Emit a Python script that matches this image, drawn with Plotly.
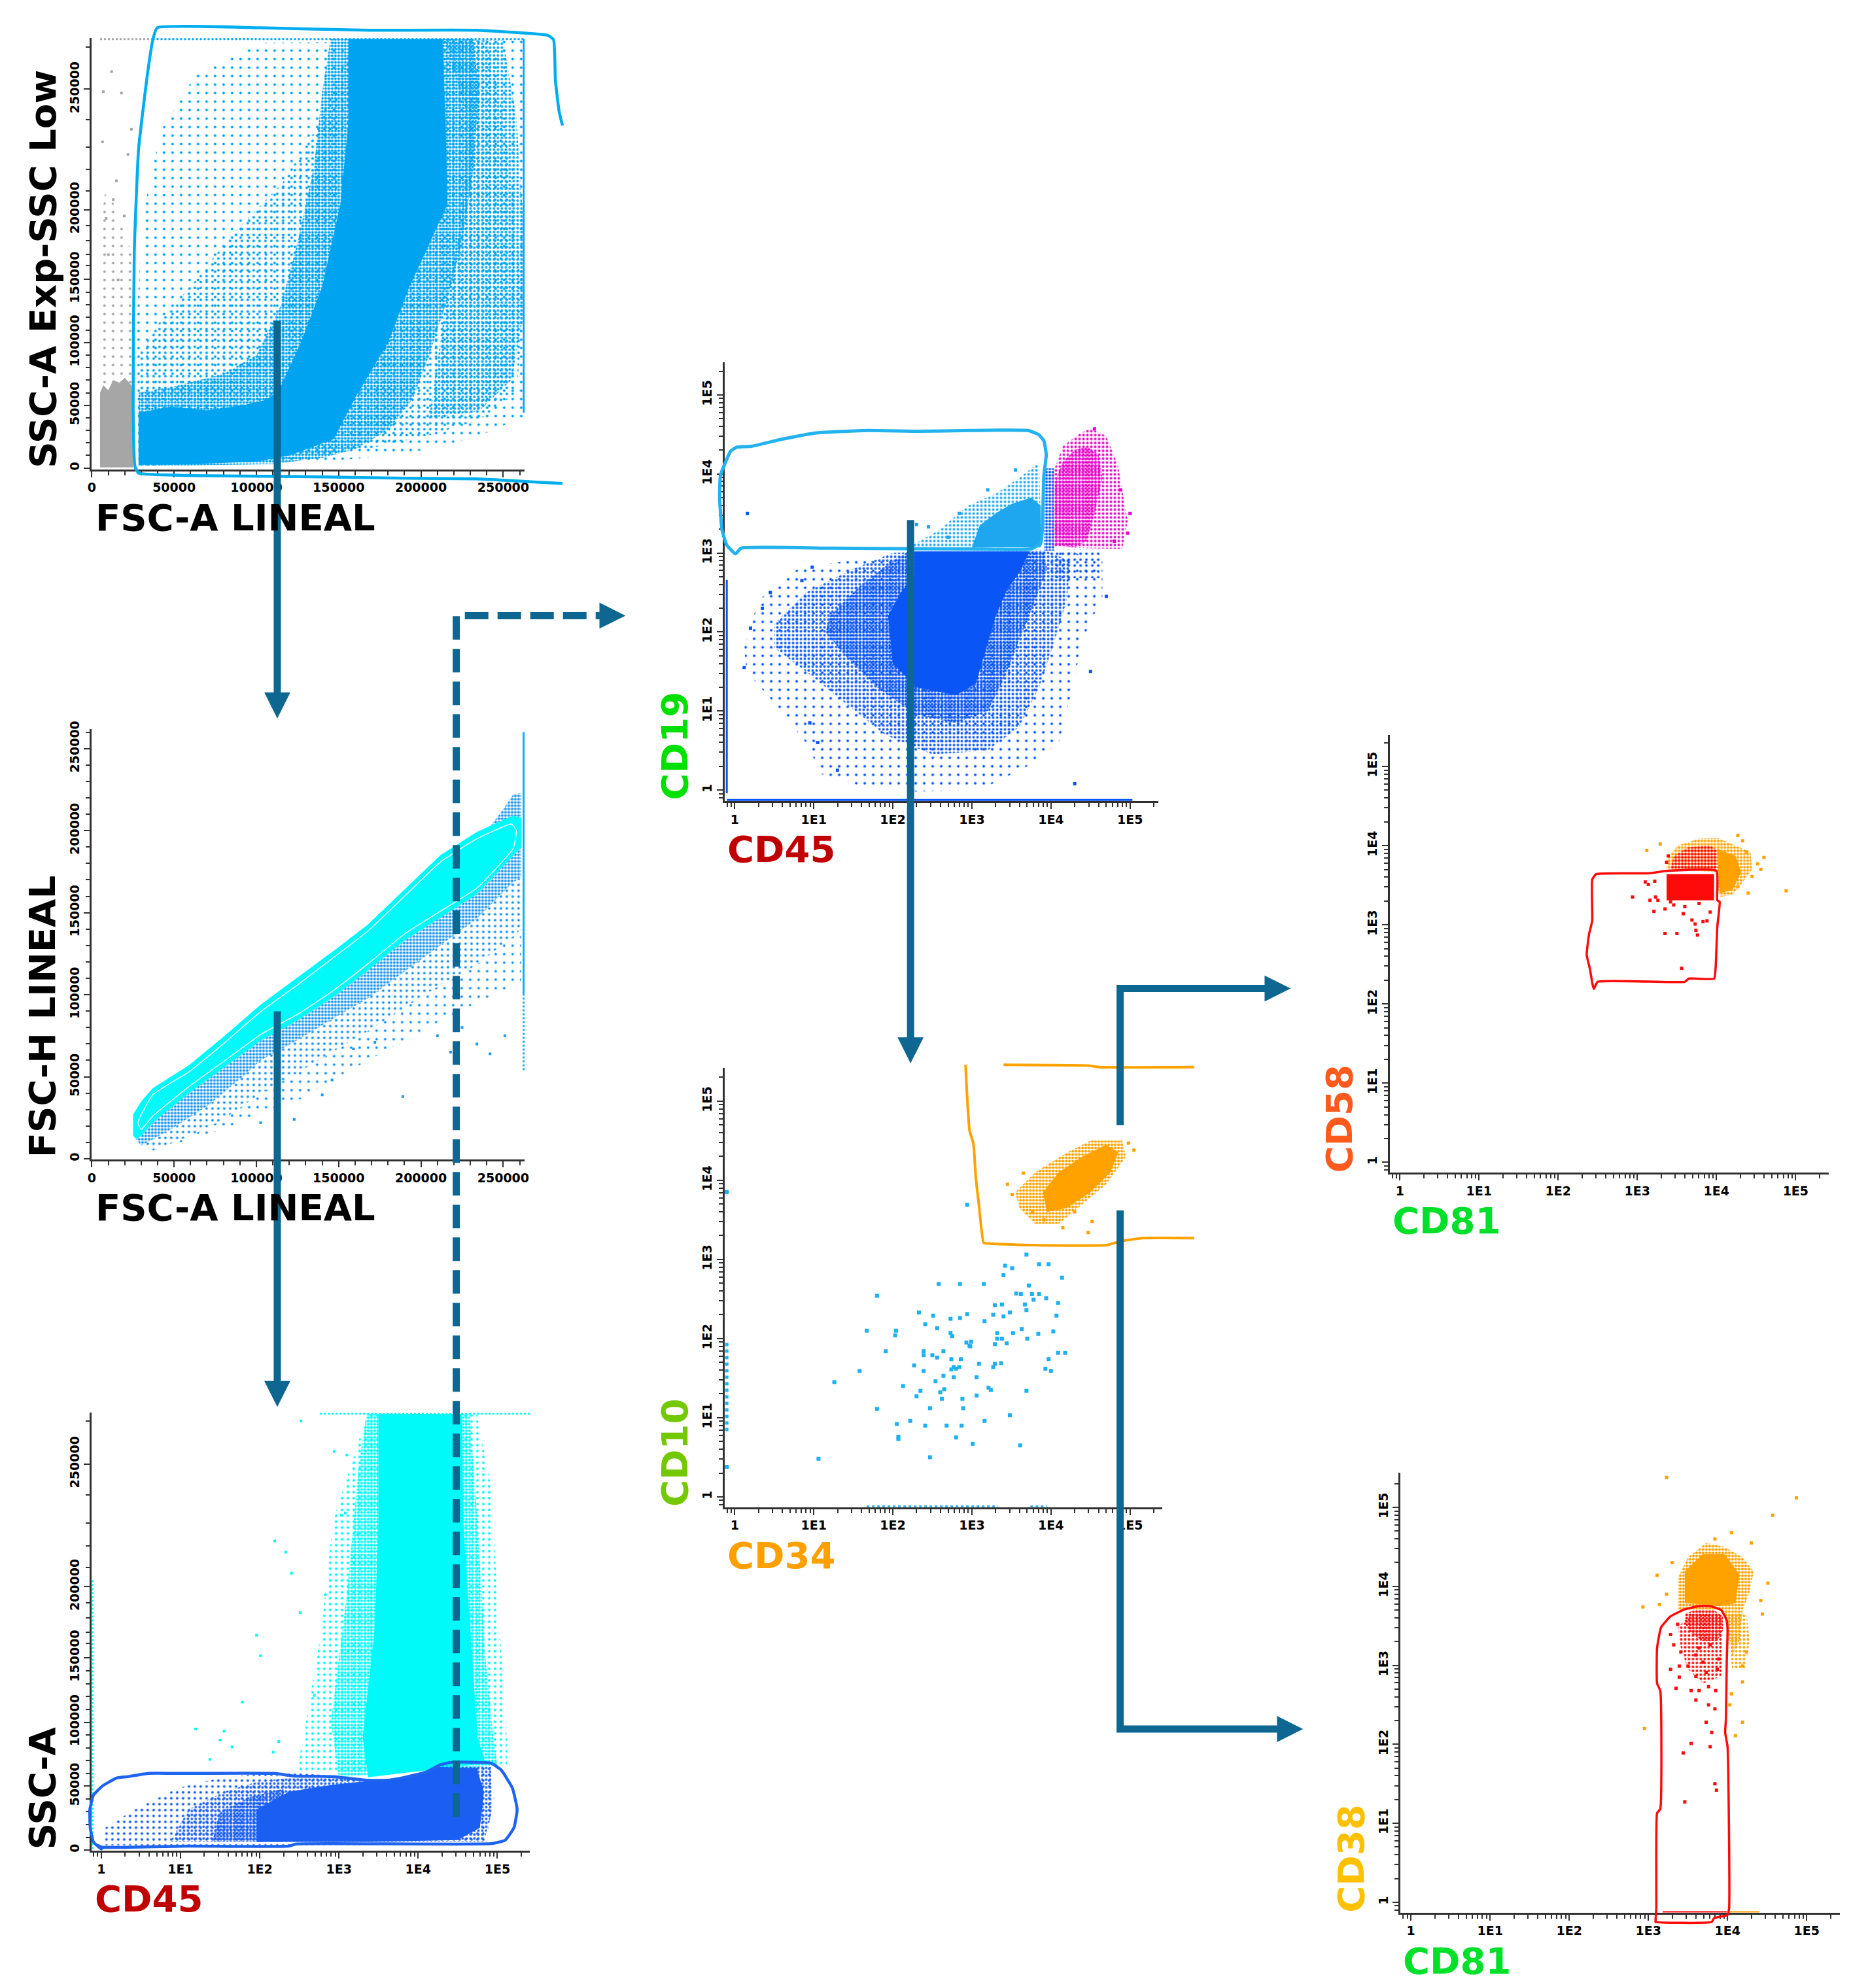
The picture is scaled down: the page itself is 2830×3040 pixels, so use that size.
import plotly.graph_objects as go

W, H = 2830, 3040

# ------------------------------------------------------------------ colours
ARROW = '#0D6790'
AXC = '#303030'
GRAY = '#A6A6A6'
BLUE1 = '#00A3F0'
GATE1 = '#00AEEF'
CYAN = '#00FAFA'
BLUE2 = '#1E96F0'
BLUE3 = '#1A5EF2'
GATE3 = '#1E64F0'
BLUE4 = '#0A55F5'
LBLUE4 = '#1EA6EE'
GATE4 = '#22B2EE'
MAGENTA = '#E600C8'
LBLUE5 = '#1EB0F0'
ORANGE = '#FFA200'
RED = '#FF0A0A'

# ------------------------------------------------------------------ tick labels
LIN_TICKS = [0, 50, 100, 150, 200, 250]
LIN_TEXT = ['0', '50000', '100000', '150000', '200000', '250000']
SSC_TICK_POS = [0, 50, 100, 150.5, 206, 302]          # SSC display scale (non-linear labels)
SSC_TEXT = ['0', '50000', '100000', '150000', '200000', '250000']
SSC_MINOR_POS = [10, 20, 30, 40, 60, 70, 80, 90, 110, 120, 130, 140, 161.6, 170.5, 181.4, 193.3,
                 220.9, 238, 255.7, 277.5, 335.8]
LOG_TICKS = [1, 10, 100, 1e3, 1e4, 1e5]
LOG_TEXT = ['1', '1E1', '1E2', '1E3', '1E4', '1E5']

# ================================================================== PANEL 1 data
# FSC-A (thousands) vs SSC-A Exp (display thousands)
P1_GRAY_DENSE_X = [5, 5, 7, 10, 13, 17, 20, 24, 25, 25]
P1_GRAY_DENSE_Y = [0.5, 60, 66, 62, 70, 68, 72, 66, 60, 0.5]
P1_GRAY_SPARSE_X = [5, 5, 8, 12, 18, 22, 25, 25]
P1_GRAY_SPARSE_Y = [60, 190, 220, 215, 195, 180, 170, 60]
P1_GRAY_DOT_X = [12, 18, 6.5, 15, 13, 19.7, 8.7, 22, 10, 16, 24, 7]
P1_GRAY_DOT_Y = [316, 299, 260, 229, 214, 201, 199, 250, 170, 150, 270, 300]
P1_GRAY_TOP_X = [5, 37]
P1_GRAY_TOP_Y = [342, 342]
P1_BLUE_TOP_X = [37, 263]
P1_BLUE_TOP_Y = [342, 342]
P1_EDGE_X = [262.5, 262.5]
P1_EDGE_Y = [44, 342]
P1_SPARSE_X = [28.4, 27.3, 30.6, 41.5, 63.3, 102.6, 263, 263, 233.6, 190, 146, 80.8]
P1_SPARSE_Y = [1.4, 117, 199, 268, 314, 339, 341, 41, 24.6, 11, 5.5, 2.7]
P1_MED_X = [28.4, 28.4, 41.5, 63.3, 85, 115.7, 137.6, 152.8, 159.4, 240, 250, 258, 262, 258, 235, 205, 170, 130, 80.8]
P1_MED_Y = [1.4, 90, 117, 150, 186, 227, 273, 322, 341, 341, 281, 199, 117, 60, 38, 26, 16, 8, 4]
P1_RIGHT_X = [215, 250, 258, 262, 262, 255, 235, 205, 215, 225, 228]
P1_RIGHT_Y = [341, 341, 280, 200, 120, 70, 45, 40, 130, 200, 280]
P1_DENSE_X = [28.4, 28.4, 50, 80, 100, 115, 125, 135, 140, 145, 232, 235, 232, 225, 215, 205, 195, 180,
              160, 140, 110, 60]
P1_DENSE_Y = [2, 60, 65, 75, 90, 130, 180, 240, 300, 342, 342, 300, 240, 180, 130, 90, 55, 30,
              15, 8, 3, 2]
P1_CORE_X = [28.4, 48, 70, 92, 105, 113, 127, 140, 151, 156, 156, 213, 215, 216, 193, 180, 160, 147,
             120, 100, 60, 28.4]
P1_CORE_Y = [44, 49, 46, 50, 54, 60, 100, 144.5, 210, 276, 342, 342, 276, 210, 144.5, 100, 56, 23,
             10, 5, 3, 2.7]
P1_GATE_X = [286, 284, 281.7, 280.6, 277, 233.6, 168, 102.6, 39.7, 37.1, 33.8, 28.4, 25.8, 25.1, 26.2,
             28.4, 59, 124.5, 190, 233.6, 286]
P1_GATE_Y = [273, 284, 309, 341.5, 345, 349, 349, 351, 351, 341.5, 314, 254, 172, 49, 1.4,
             -4, -6, -6.8, -8.2, -8.7, -12.3]

# ================================================================== PANEL 2 data
P2_BAND_X = [25.1, 25.1, 30, 37, 59, 80.8, 102.6, 124.5, 146, 168, 190, 211.8, 233.6, 255.5, 261,
             261, 255.5, 233.6, 211.8, 190, 168, 146, 124.5, 102.6, 80.8, 59, 37, 30, 27]
P2_BAND_Y = [14, 27, 35, 43, 57, 75, 94, 110, 126, 143, 164, 185, 199, 209, 208,
             190, 184, 161, 147, 133, 115, 98, 84, 72, 56, 40, 22, 14, 12]
P2_CONTOUR_X = [28, 37, 59, 81, 103, 125, 146, 168, 190, 212, 234, 255, 258,
                256, 234, 212, 190, 168, 146, 125, 103, 81, 59, 37, 30, 28]
P2_CONTOUR_Y = [22, 39, 53, 71, 90, 106, 122, 139, 160, 181, 195, 204, 200,
                189, 165, 151, 137, 119, 102, 88, 76, 60, 44, 26, 18, 22]
P2_DENSE_X = [27, 30, 37, 59, 80.8, 102.6, 124.5, 146, 168, 190, 211.8, 233.6, 255.5, 261,
              261, 255.5, 233.6, 211.8, 190, 168, 146, 124.5, 102.6, 91.7, 70, 48, 30]
P2_DENSE_Y = [12, 14, 22, 40, 56, 72, 84, 98, 115, 133, 147, 161, 184, 190,
              172, 168, 146, 130, 114, 98, 85, 72, 60, 50, 32, 18, 8]
P2_MED_X = [30, 48, 70, 91.7, 102.6, 124.5, 146, 168, 190, 211.8, 233.6, 255.5, 261,
            261, 255.5, 233.6, 211.8, 190, 168, 146, 124.5, 102.6, 80, 60, 37]
P2_MED_Y = [8, 18, 32, 50, 60, 72, 85, 98, 114, 130, 146, 168, 172,
            140, 135, 118, 106, 92, 78, 65, 52, 40, 24, 14, 5]
P2_SPARSE_X = [37, 60, 80, 102.6, 124.5, 146, 168, 190, 211.8, 233.6, 255.5, 261,
               261, 255.5, 233.6, 211.8, 190, 168, 146, 124.5, 102.6, 80, 60, 37]
P2_SPARSE_Y = [5, 14, 24, 40, 52, 65, 78, 92, 106, 118, 135, 140,
               108, 105, 95, 84, 72, 60, 48, 35, 28, 18, 12, 5]
P2_TOP_X = [240, 250, 256, 261, 261, 255.5, 240]
P2_TOP_Y = [200, 213, 222, 223, 208, 209, 200]
P2_DOT_X = [189, 140, 102.6, 123, 242, 251, 234, 225, 218, 172, 159, 146, 210]
P2_DOT_Y = [38, 39, 22, 24, 64, 75, 70, 80, 65, 71, 67, 48, 75]
P2_EDGE_X = [262.4, 262.4]
P2_EDGE_Y = [100, 260]
P2_EDGE2_Y = [54, 100]

# ================================================================== PANEL 3 data (log10 CD45, SSC display thousands)
P3_CYAN_SPARSE_X = [2.78, 2.92, 3.28, 3.37, 4.74, 4.92, 5.0, 5.12, 5.12, 2.46, 2.55]
P3_CYAN_SPARSE_Y = [172, 256, 326, 341, 341, 284, 200, 88, 65, 60, 88]
P3_CYAN_MED_X = [2.9, 3.1, 3.25, 3.35, 4.65, 4.75, 4.85, 4.95, 5.0, 3.0]
P3_CYAN_MED_Y = [100, 200, 300, 341, 341, 256, 150, 88, 66, 57]
P3_CYAN_DENSE_X = [3.5, 4.55, 4.57, 4.66, 4.75, 4.85, 3.37, 3.3, 3.45, 3.5]
P3_CYAN_DENSE_Y = [341, 341, 256, 172, 88, 68, 57, 88, 172, 256]
P3_CYAN_DOT_X = [2.19, 2.33, 2.4, 2.51, 1.96, 2.01, 1.78, 1.55, 1.19, 1.37, 1.65, 2.17, 2.24, 2.69, 2.83,
                 2.94, 3.1, 2.52, 3.03, 3.08, 3.24, 1.5]
P3_CYAN_DOT_Y = [241.7, 233, 216.5, 185.7, 168, 152, 115.7, 93, 94.7, 70.9, 80.7, 76.5, 84.9, 121, 199.7,
                 311.8, 309, 335.6, 262, 263.6, 246.8, 86]
P3_CYAN_TOP_X = [2.76, 5.42]
P3_CYAN_TOP_Y = [341.3, 341.3]
P3_CYAN_LEFT_X = [-0.11, -0.11]
P3_CYAN_LEFT_Y = [0.8, 211]
P3_BLUE_SPARSE_X = [0.01, 0.05, 0.42, 0.87, 1.1, 1.55, 2.0, 2.5, 3.0, 3.5, 3.9, 4.3, 4.92, 4.96, 4.85, 4.5]
P3_BLUE_SPARSE_Y = [3.6, 17.6, 31.7, 45.7, 51, 57, 59.7, 60, 58, 56, 58, 67, 67, 40, 6.4, 4]
P3_BLUE_MED_X = [0.87, 1.1, 1.55, 2.0, 2.46, 3.0, 3.5, 3.9, 4.28, 4.92, 4.94, 4.83]
P3_BLUE_MED_Y = [6.4, 31.7, 45.7, 54, 57, 57, 55, 57, 66.7, 65, 31.7, 6.4]
P3_BLUE_DENSE_X = [1.4, 1.5, 1.9, 2.3, 2.3, 2.0]
P3_BLUE_DENSE_Y = [6.4, 30, 42, 48, 6.4, 6.4]
P3_BLUE_SOLID_X = [1.96, 1.96, 2.37, 2.92, 3.37, 3.83, 4.28, 4.74, 4.83, 4.78, 4.5, 3.37]
P3_BLUE_SOLID_Y = [6.4, 31.7, 45.7, 51, 54, 57, 65, 64, 45.7, 17.6, 7.8, 6.4]
P3_GATE_X = [0, -0.1, -0.14, -0.145, -0.1, 0.01, 0.19, 0.33, 0.6, 0.96, 2.19, 2.42, 2.92, 3.37, 3.6, 3.83,
             4.1, 4.28, 4.42, 4.92, 5.05, 5.19, 5.25, 5.21, 5.1, 4.92, 2.46, 2.37, 1.1, 0.01, -0.04, 0]
P3_GATE_Y = [0.8, 6.4, 17.6, 31.7, 42.9, 49.9, 56.3, 57.4, 60, 60, 60, 58, 57.4, 54.6, 54.6, 56.9,
             61, 66.7, 68.6, 68, 62.5, 48.5, 31.7, 17.6, 7.8, 5, 4.8, 3.1, 3.1, 2.2, 3.6, 0.8]

# ================================================================== PANEL 4 data (log10 CD45, log10 CD19)
P4_SPARSE_X = [0.12, 0.3, 0.8, 1.4, 2.0, 2.6, 3.2, 3.9, 4.3, 4.65, 4.65, 4.4, 4.25, 4.1, 3.7, 3.1, 2.3,
               1.6, 1.1, 0.9, 0.5, 0.15]
P4_SPARSE_Y = [1.8, 2.4, 2.8, 2.9, 2.95, 3.0, 3.05, 3.05, 3.0, 2.9, 2.45, 1.9, 1.2, 0.6, 0.3, 0.0, -0.02,
               0.05, 0.2, 0.6, 1.1, 1.5]
P4_MED_X = [0.5, 0.9, 1.5, 2.0, 3.0, 3.9, 4.25, 4.2, 4.05, 3.85, 3.6, 3.2, 2.5, 1.9, 1.4, 0.9, 0.5]
P4_MED_Y = [2.1, 2.5, 2.8, 3.0, 3.04, 3.04, 2.9, 2.4, 1.9, 1.3, 0.8, 0.5, 0.45, 0.7, 1.1, 1.5, 1.8]
P4_DENSE_X = [1.2, 1.6, 2.0, 2.2, 3.9, 3.95, 3.8, 3.6, 3.4, 3.2, 2.8, 2.3, 1.8, 1.4, 1.15]
P4_DENSE_Y = [2.2, 2.6, 2.9, 3.02, 3.02, 2.8, 2.4, 1.9, 1.4, 1.0, 0.85, 0.95, 1.3, 1.7, 2.0]
P4_CORE_X = [2.27, 3.73, 3.6, 3.45, 3.3, 3.15, 3.05, 2.8, 2.3, 2.0, 1.94, 2.1, 2.27]
P4_CORE_Y = [3.02, 3.02, 2.75, 2.55, 2.2, 1.7, 1.35, 1.2, 1.3, 1.6, 2.2, 2.5, 2.7]
P4_STRIPE_X = [3.91, 4.04, 4.04, 3.91]
P4_STRIPE_Y = [3.03, 3.03, 4.07, 4.07]
P4_RIGHT_X = [4.02, 4.62, 4.62, 4.02]
P4_RIGHT_Y = [2.68, 2.68, 3.05, 3.05]
P4_LEFT_X = [-0.1, -0.1]
P4_LEFT_Y = [-0.04, 2.66]
P4_FLOOR_X = [-0.1, 5.03]
P4_FLOOR_Y = [-0.125, -0.125]
P4_LB_SPARSE_X = [2.2, 2.6, 2.95, 3.3, 3.6, 3.85, 3.88]
P4_LB_SPARSE_Y = [3.07, 3.3, 3.6, 3.75, 3.95, 4.15, 3.07]
P4_LB_DENSE_X = [3.0, 3.1, 3.3, 3.5, 3.75, 3.87, 3.87]
P4_LB_DENSE_Y = [3.07, 3.35, 3.5, 3.62, 3.7, 3.6, 3.07]
P4_LB_DOT_X = [2.84, 2.3, 2.45, 2.7, 3.2, 3.55]
P4_LB_DOT_Y = [3.5, 3.36, 3.33, 3.2, 3.8, 4.05]
P4_MAG_SPARSE_X = [4.02, 4.02, 4.15, 4.35, 4.5, 4.7, 4.85, 4.97, 4.9]
P4_MAG_SPARSE_Y = [3.07, 4.0, 4.35, 4.5, 4.58, 4.48, 4.1, 3.4, 3.05]
P4_MAG_DENSE_X = [4.05, 4.05, 4.15, 4.3, 4.45, 4.6, 4.65, 4.55, 4.45, 4.3]
P4_MAG_DENSE_Y = [3.1, 3.9, 4.15, 4.3, 4.35, 4.25, 3.95, 3.5, 3.15, 3.07]
P4_MAG_DOT_X = [4.97, 4.88, 4.55, 5.0, 4.8]
P4_MAG_DOT_Y = [3.25, 3.8, 4.57, 3.5, 3.15]
P4_BLUE_DOT_X = [0.12, 0.2, 0.45, 0.35, 0.85, 0.95, 1.05, 4.7, 4.5, 4.3, 0.98, 1.3, 0.16]
P4_BLUE_DOT_Y = [1.55, 2.05, 2.5, 2.3, 2.65, 0.85, 0.6, 2.45, 1.5, 0.08, 2.82, 0.25, 3.5]
P4_GATE_X = [0.01, -0.1, -0.16, -0.19, -0.18, -0.05, 0.03, 0.21, 0.6, 1.03, 1.68, 2.33, 2.98, 3.71, 3.84,
             3.91, 3.94, 3.91, 3.89, 3.87, 3.74, 2.98, 1.25, 0.08, 0.01]
P4_GATE_Y = [2.99, 3.1, 3.29, 3.68, 3.98, 4.29, 4.34, 4.35, 4.44, 4.52, 4.55, 4.54, 4.55, 4.55, 4.5,
             4.42, 4.24, 3.98, 3.29, 3.12, 3.05, 3.05, 3.06, 3.06, 2.99]

# ================================================================== PANEL 5 data (log10 CD34, log10 CD10)
P5_OR_MED_X = [3.55, 3.8, 4.2, 4.5, 4.9, 4.95, 4.7, 4.4, 4.1, 3.8, 3.6]
P5_OR_MED_Y = [3.85, 4.1, 4.35, 4.5, 4.5, 4.3, 3.95, 3.7, 3.45, 3.45, 3.65]
P5_OR_DENSE_X = [3.9, 4.1, 4.4, 4.7, 4.85, 4.75, 4.5, 4.2, 3.95]
P5_OR_DENSE_Y = [3.85, 4.1, 4.3, 4.45, 4.35, 4.1, 3.85, 3.65, 3.6]
P5_OR_DOT_X = [4.47, 4.52, 4.3, 3.91, 3.77, 3.51, 3.65, 4.98, 5.05, 3.45, 4.15]
P5_OR_DOT_Y = [3.34, 3.48, 3.6, 3.5, 3.6, 3.82, 4.09, 4.47, 4.38, 3.95, 3.4]
P5_DOT_X = [2.94, 3.69, 3.42, 3.51, 3.85, 3.97, 4.14, 2.58, 2.85, 3.15, 1.80, 3.40, 3.72, 3.56, 3.62, 3.76,
            3.85, 3.94, 3.78, 3.67, 3.69, 4.09, 4.07, 3.38, 3.29, 3.27, 3.40, 3.48, 3.16, 2.94, 2.85, 2.51,
            2.33, 2.41, 2.73, 2.56, 2.04, 2.03, 1.67, 2.73, 2.75, 3.32, 3.32, 3.29, 3.38, 3.44, 3.52, 3.63,
            3.70, 3.84, 4.03, 4.09, 4.18, 2.93, 2.99, 2.97, 2.98, 1.91, 2.39, 2.39, 2.64, 2.50, 2.56, 2.74,
            2.86, 2.27, 3.09, 3.29, 3.27, 3.37, 3.97, 3.93, 4.00, 2.39, 2.64, 2.77, 2.74, 2.80, 2.84, 1.58,
            2.77, 3.06, 2.54, 2.13, 1.26, 2.35, 2.30, 2.60, 2.65, 2.62, 3.06, 3.21, 3.24, 3.69, 2.47, 2.88,
            2.89, 1.80, 3.48, 2.05, 2.22, 2.41, 2.68, 2.87, 3.16, 2.07, 2.07, 2.80, 3.01, 3.61, 2.47, 1.06]
P5_DOT_Y = [3.69, 3.06, 2.92, 2.89, 2.94, 2.94, 2.77, 2.69, 2.69, 2.69, 2.54, 2.80, 2.67, 2.57, 2.56, 2.56,
            2.56, 2.51, 2.49, 2.43, 2.36, 2.45, 2.29, 2.43, 2.42, 2.30, 2.28, 2.33, 2.22, 2.31, 2.26, 2.29,
            2.33, 2.18, 2.25, 2.13, 2.10, 2.04, 2.10, 2.07, 2.03, 2.07, 2.00, 1.93, 2.00, 1.94, 2.07, 2.12,
            2.00, 2.06, 2.09, 1.82, 1.82, 1.95, 1.96, 1.91, 1.90, 1.84, 1.84, 1.79, 1.84, 1.79, 1.76, 1.74,
            1.74, 1.66, 1.68, 1.68, 1.64, 1.69, 1.74, 1.62, 1.59, 1.59, 1.53, 1.64, 1.61, 1.62, 1.64, 1.59,
            1.51, 1.51, 1.46, 1.40, 1.45, 1.34, 1.27, 1.32, 1.36, 1.24, 1.28, 1.38, 1.35, 1.34, 1.12, 1.24,
            1.12, 1.11, 1.03, 0.92, 0.96, 0.90, 0.90, 0.90, 0.96, 0.76, 0.73, 0.75, 0.67, 0.65, 0.50, 0.48]
P5_LEFT_X = [-0.1, -0.1]
P5_LEFT_Y = [0.83, 1.97]
P5_LEFT_DOT_X = [-0.1, -0.1]
P5_LEFT_DOT_Y = [3.85, 0.38]
P5_FLOOR_X = [1.67, 3.33]
P5_FLOOR2_X = [3.74, 3.95]
P5_FLOOR_Y = [-0.125, -0.125]
P5_GATE_L_X = [2.92, 2.93, 2.97, 3.02, 3.05, 3.09, 3.15, 3.23, 3.77, 4.7, 4.88, 5.16, 5.81]
P5_GATE_L_Y = [5.46, 5.24, 4.63, 4.46, 4.03, 3.68, 3.21, 3.2, 3.18, 3.18, 3.23, 3.27, 3.27]
P5_GATE_T_X = [3.4, 4.47, 4.6, 5.81]
P5_GATE_T_Y = [5.46, 5.45, 5.43, 5.43]

# ================================================================== PANEL 6 data (log10 CD81, log10 CD58)
P6_OR_MED_X = [3.37, 3.51, 3.78, 4.01, 4.24, 4.43, 4.45, 4.29, 4.2, 4.04, 3.99, 3.6, 3.37]
P6_OR_MED_Y = [3.83, 4.0, 4.09, 4.1, 4.0, 3.92, 3.7, 3.48, 3.38, 3.35, 3.66, 3.7, 3.7]
P6_OR_DENSE_X = [4.01, 4.24, 4.31, 4.2, 4.04]
P6_OR_DENSE_Y = [3.96, 3.87, 3.66, 3.44, 3.4]
P6_OR_DOT_X = [3.12, 3.29, 4.27, 4.52, 4.56, 4.45, 4.4, 4.88, 4.27, 4.38, 4.33, 4.6]
P6_OR_DOT_Y = [3.94, 4.02, 4.13, 3.77, 3.7, 3.61, 3.4, 3.43, 3.48, 3.92, 4.06, 3.85]
P6_RED_TOP_X = [3.42, 3.46, 3.65, 3.92, 4.01, 4.01]
P6_RED_TOP_Y = [3.7, 3.87, 3.98, 4.0, 3.94, 3.7]
P6_RED_BLOCK_X = [3.37, 3.97, 3.97, 3.37]
P6_RED_BLOCK_Y = [3.64, 3.64, 3.31, 3.31]
P6_RED_DOT_X = [2.94, 3.1, 3.14, 3.16, 3.22, 3.23, 3.26, 3.21, 3.35, 3.35, 3.5, 3.58, 3.69, 3.73, 3.74,
                3.76, 3.83, 3.88, 3.92, 3.56, 3.42, 3.46, 3.6, 3.78, 3.39, 3.37]
P6_RED_DOT_Y = [3.35, 3.54, 3.51, 3.31, 3.55, 3.35, 3.31, 3.17, 3.2, 2.89, 2.89, 3.14, 3.06, 3.01, 2.93,
                2.87, 3.04, 3.05, 3.16, 2.45, 3.29, 3.25, 3.23, 3.27, 3.87, 3.79]
P6_GATE_X = [2.45, 2.43, 2.4, 2.36, 2.39, 2.43, 2.43, 2.48, 3.14, 3.37, 4.0, 4.01, 4.04, 4.01, 3.99, 3.97,
             3.65, 3.6, 2.5, 2.45]
P6_GATE_Y = [2.19, 2.27, 2.45, 2.62, 2.88, 3.05, 3.57, 3.64, 3.65, 3.68, 3.68, 3.31, 3.29, 2.97, 2.47, 2.32,
             2.32, 2.28, 2.28, 2.19]

# ================================================================== PANEL 7 data (log10 CD81, log10 CD38)
P7_OR_MED_X = [3.37, 3.37, 3.5, 3.73, 3.96, 4.19, 4.33, 4.28, 4.19, 4.15, 4.06, 4.01, 3.92]
P7_OR_MED_Y = [3.7, 4.1, 4.37, 4.55, 4.5, 4.37, 4.19, 3.93, 3.7, 3.31, 3.13, 3.44, 3.7]
P7_OR_DENSE_X = [3.46, 3.46, 3.69, 3.96, 4.15, 4.1, 3.92]
P7_OR_DENSE_Y = [3.79, 4.19, 4.41, 4.41, 4.15, 3.79, 3.75]
P7_OR_TAIL_X = [4.01, 4.24, 4.28, 4.22, 4.06, 4.01]
P7_OR_TAIL_Y = [3.66, 3.66, 3.31, 2.95, 2.95, 3.31]
P7_OR_DOT_X = [3.23, 4.87, 4.57, 4.05, 3.84, 3.11, 2.93, 4.51, 4.42, 4.44, 4.24, 4.19, 4.19, 4.05, 4.03,
               4.19, 4.1, 2.95, 3.23, 3.14, 3.3, 4.3]
P7_OR_DOT_Y = [5.38, 5.12, 4.9, 4.68, 4.6, 4.14, 3.74, 4.04, 3.82, 3.65, 3.17, 2.99, 2.79, 2.64, 2.5,
               2.28, 2.11, 2.2, 3.9, 3.77, 4.3, 4.55]
P7_RED_MED_X = [3.37, 3.55, 3.92, 3.94, 3.92, 3.69, 3.5, 3.41]
P7_RED_MED_Y = [3.48, 3.66, 3.66, 3.31, 2.86, 2.77, 2.95, 3.22]
P7_RED_DENSE_X = [3.46, 3.6, 3.83, 3.94, 3.94, 3.87, 3.69, 3.55, 3.46]
P7_RED_DENSE_Y = [3.66, 3.7, 3.7, 3.62, 3.44, 3.31, 3.31, 3.39, 3.53]
P7_RED_DOT_X = [3.37, 3.28, 3.32, 3.41, 3.28, 3.39, 3.5, 3.39, 3.35, 3.54, 3.6, 3.64, 3.76, 3.85, 3.6,
                3.76, 3.84, 3.73, 3.8, 3.78, 3.54, 3.44, 3.84, 3.86, 3.46, 3.73, 3.87, 3.89, 3.6, 3.69,
                3.64, 3.78]
P7_RED_DOT_Y = [3.52, 3.39, 3.26, 3.17, 2.95, 2.99, 2.99, 2.85, 2.71, 2.68, 2.86, 2.68, 2.73, 2.68, 2.56,
                2.5, 2.45, 2.28, 2.15, 1.97, 2.01, 1.89, 1.5, 1.42, 1.27, 2.91, 2.95, 3.08, 3.13, 3.04,
                3.22, 3.26]
P7_RED_FLOOR_X = [3.18, 3.99]
P7_OR_FLOOR_X = [4.03, 4.4]
P7_FLOOR_Y = [-0.125, -0.125]
P7_GATE_X = [3.09, 3.1, 3.11, 3.15, 3.15, 3.11, 3.11, 3.16, 3.28, 3.46, 3.64, 3.78, 3.92, 3.99, 4.0, 3.99,
             3.98, 3.97, 4.0, 4.02, 4.0, 3.83, 3.8, 3.09, 3.09]
P7_GATE_Y = [-0.24, -0.07, 1.13, 1.18, 2.68, 2.77, 3.22, 3.48, 3.62, 3.71, 3.75, 3.75, 3.7, 3.57, 3.44, 3.04,
             2.33, 2.15, 1.97, -0.07, -0.16, -0.2, -0.25, -0.25, -0.24]

# ================================================================== layout of panels (pixel frames)
# frame: (left, right, top, bottom) in figure pixels ; ranges in axis units (log10 for log axes)
PANELS = {
    1: dict(f=(126, 791, 38, 701), xt='linear', yt='linear', xr=(0, 263), yr=(-1, 343), yk='ssc'),
    2: dict(f=(126, 791, 1100, 1762), xt='linear', yt='linear', xr=(0, 263), yr=(-0.5, 262), yk='lin'),
    3: dict(f=(126, 799, 2151, 2824), xt='log', yt='linear', xr=(-0.12, 5.41), yr=(-0.5, 342), yk='ssc'),
    4: dict(f=(1098, 1765, 537, 1211), xt='log', yt='log', xr=(-0.13, 5.36), yr=(-0.14, 5.41), yk='log'),
    5: dict(f=(1098, 1771, 1621, 2296), xt='log', yt='log', xr=(-0.13, 5.41), yr=(-0.13, 5.42), yk='log'),
    6: dict(f=(2120, 2795, 1109, 1782), xt='log', yt='log', xr=(-0.13, 5.42), yr=(-0.13, 5.40), yk='log'),
    7: dict(f=(2137, 2812, 2243, 2919), xt='log', yt='log', xr=(-0.13, 5.42), yr=(-0.13, 5.44), yk='log'),
}
EXT = 130   # extra pixels for the invisible "gate" axes

fig = go.Figure()
FONT = 'DejaVu Sans'
TICKFONT = dict(family=FONT, size=19, color='black', weight='bold')
LOG_MINOR = [m * 10 ** d for d in range(0, 6) for m in range(2, 10)] + [0.8, 0.9]


def axname(k, letter):
    return letter if k == 1 else f'{letter}{k}'


def conv(vals, t):
    return [10 ** v for v in vals] if t == 'log' else list(vals)


def lay_key(k, letter):
    return f'{letter}axis' if k == 1 else f'{letter}axis{k}'


MINOR_LOG = dict(tickmode='array', tickvals=LOG_MINOR, ticks='outside', ticklen=6, tickwidth=1.5, tickcolor=AXC)
MINOR_LIN = dict(dtick=10, ticks='outside', ticklen=6, tickwidth=1.5, tickcolor=AXC)
MINOR_SSC = dict(tickmode='array', tickvals=SSC_MINOR_POS, ticks='outside', ticklen=6, tickwidth=1.5,
                 tickcolor=AXC)

layout = {}
for k, p in PANELS.items():
    l, r, t, b = p['f']
    xdom = [l / W, r / W]
    ydom = [1 - b / H, 1 - t / H]
    common = dict(showline=True, linecolor=AXC, linewidth=3, ticks='outside', ticklen=9, tickwidth=2,
                  tickcolor=AXC, showgrid=False, zeroline=False, tickfont=TICKFONT, fixedrange=True,
                  ticklabelstandoff=0)
    xa = dict(common, domain=xdom, type=p['xt'], range=list(p['xr']), anchor=axname(k, 'y'))
    if p['xt'] == 'log':
        xa.update(tickmode='array', tickvals=LOG_TICKS, ticktext=LOG_TEXT, minor=MINOR_LOG)
    else:
        xa.update(tickmode='array', tickvals=LIN_TICKS, ticktext=LIN_TEXT, minor=MINOR_LIN)
    ya = dict(common, domain=ydom, type=p['yt'], range=list(p['yr']), anchor=axname(k, 'x'), tickangle=-90)
    if p['yk'] == 'log':
        ya.update(tickmode='array', tickvals=LOG_TICKS, ticktext=LOG_TEXT, minor=MINOR_LOG)
    elif p['yk'] == 'ssc':
        ya.update(tickmode='array', tickvals=SSC_TICK_POS, ticktext=SSC_TEXT, minor=MINOR_SSC)
    else:
        ya.update(tickmode='array', tickvals=LIN_TICKS, ticktext=LIN_TEXT, minor=MINOR_LIN)
    layout[lay_key(k, 'x')] = xa
    layout[lay_key(k, 'y')] = ya

    # invisible wide axes with the same scale (for gates that overflow the frame)
    kk = k + 7
    el, er = min(EXT, l), min(EXT, W - r)
    et, eb = min(EXT, t), min(EXT, H - b)
    x0, x1 = p['xr']
    y0, y1 = p['yr']
    sx = (x1 - x0) / (r - l)
    sy = (y1 - y0) / (b - t)
    layout[lay_key(kk, 'x')] = dict(domain=[(l - el) / W, (r + er) / W], type=p['xt'],
                                    range=[x0 - el * sx, x1 + er * sx], anchor=axname(kk, 'y'),
                                    visible=False, fixedrange=True)
    layout[lay_key(kk, 'y')] = dict(domain=[1 - (b + eb) / H, 1 - (t - et) / H], type=p['yt'],
                                    range=[y0 - eb * sy, y1 + et * sy], anchor=axname(kk, 'x'),
                                    visible=False, fixedrange=True)

PATTERN = {'dense': (5, 0.55), 'medium': (6, 0.34), 'sparse': (9, 0.16), 'faint': (13, 0.075)}


def poly(k, xs, ys, color, kind):
    p = PANELS[k]
    tr = dict(x=conv(xs, p['xt']), y=conv(ys, p['yt']), mode='lines', line=dict(width=0),
              fill='toself', hoverinfo='skip', xaxis=axname(k, 'x'), yaxis=axname(k, 'y'))
    if kind == 'solid':
        tr['fillcolor'] = color
    else:
        s, q = PATTERN[kind]
        tr['fillcolor'] = 'rgba(0,0,0,0)'
        tr['fillpattern'] = dict(shape='.', size=s, solidity=q, fgcolor=color, bgcolor='rgba(0,0,0,0)',
                                 fgopacity=1)
    fig.add_trace(go.Scatter(**tr))


def dots(k, xs, ys, color, size):
    p = PANELS[k]
    fig.add_trace(go.Scatter(x=conv(xs, p['xt']), y=conv(ys, p['yt']), mode='markers',
                             marker=dict(color=color, size=size, symbol='square', line=dict(width=0)),
                             hoverinfo='skip', xaxis=axname(k, 'x'), yaxis=axname(k, 'y')))


def line(k, xs, ys, color, width, dash='solid', wide=False):
    p = PANELS[k]
    kk = k + 7 if wide else k
    fig.add_trace(go.Scatter(x=conv(xs, p['xt']), y=conv(ys, p['yt']), mode='lines',
                             line=dict(color=color, width=width, dash=dash, shape='spline', smoothing=0.4),
                             hoverinfo='skip', xaxis=axname(kk, 'x'), yaxis=axname(kk, 'y')))


# ---------------- panel 1
poly(1, P1_GRAY_SPARSE_X, P1_GRAY_SPARSE_Y, GRAY, 'faint')
poly(1, P1_GRAY_DENSE_X, P1_GRAY_DENSE_Y, GRAY, 'solid')
dots(1, P1_GRAY_DOT_X, P1_GRAY_DOT_Y, GRAY, 4)
poly(1, P1_SPARSE_X, P1_SPARSE_Y, BLUE1, 'faint')
poly(1, P1_MED_X, P1_MED_Y, BLUE1, 'sparse')
poly(1, P1_RIGHT_X, P1_RIGHT_Y, BLUE1, 'medium')
poly(1, P1_DENSE_X, P1_DENSE_Y, BLUE1, 'dense')
poly(1, P1_CORE_X, P1_CORE_Y, BLUE1, 'solid')
line(1, P1_GRAY_TOP_X, P1_GRAY_TOP_Y, GRAY, 3, 'dot')
line(1, P1_BLUE_TOP_X, P1_BLUE_TOP_Y, BLUE1, 3, 'dot')
line(1, P1_EDGE_X, P1_EDGE_Y, BLUE1, 3)

# ---------------- panel 2
poly(2, P2_SPARSE_X, P2_SPARSE_Y, BLUE2, 'faint')
poly(2, P2_MED_X, P2_MED_Y, BLUE2, 'sparse')
poly(2, P2_DENSE_X, P2_DENSE_Y, BLUE2, 'dense')
poly(2, P2_TOP_X, P2_TOP_Y, BLUE2, 'dense')
dots(2, P2_DOT_X, P2_DOT_Y, BLUE2, 4)
poly(2, P2_BAND_X, P2_BAND_Y, CYAN, 'solid')
line(2, P2_CONTOUR_X, P2_CONTOUR_Y, 'white', 1.5)
line(2, P2_EDGE_X, P2_EDGE_Y, '#12AAF5', 3)
line(2, P2_EDGE_X, P2_EDGE2_Y, '#12AAF5', 3, 'dot')

# ---------------- panel 3
poly(3, P3_CYAN_SPARSE_X, P3_CYAN_SPARSE_Y, CYAN, 'sparse')
poly(3, P3_CYAN_MED_X, P3_CYAN_MED_Y, CYAN, 'dense')
poly(3, P3_CYAN_DENSE_X, P3_CYAN_DENSE_Y, CYAN, 'solid')
dots(3, P3_CYAN_DOT_X, P3_CYAN_DOT_Y, CYAN, 4)
line(3, P3_CYAN_TOP_X, P3_CYAN_TOP_Y, CYAN, 3, 'dot')
line(3, P3_CYAN_LEFT_X, P3_CYAN_LEFT_Y, CYAN, 3, 'dot')
poly(3, P3_BLUE_SPARSE_X, P3_BLUE_SPARSE_Y, BLUE3, 'sparse')
poly(3, P3_BLUE_MED_X, P3_BLUE_MED_Y, BLUE3, 'medium')
poly(3, P3_BLUE_DENSE_X, P3_BLUE_DENSE_Y, BLUE3, 'dense')
poly(3, P3_BLUE_SOLID_X, P3_BLUE_SOLID_Y, BLUE3, 'solid')

# ---------------- panel 4
poly(4, P4_SPARSE_X, P4_SPARSE_Y, BLUE4, 'faint')
poly(4, P4_MED_X, P4_MED_Y, BLUE4, 'medium')
poly(4, P4_DENSE_X, P4_DENSE_Y, BLUE4, 'dense')
poly(4, P4_CORE_X, P4_CORE_Y, BLUE4, 'solid')
poly(4, P4_RIGHT_X, P4_RIGHT_Y, BLUE4, 'sparse')
poly(4, P4_STRIPE_X, P4_STRIPE_Y, BLUE4, 'dense')
dots(4, P4_BLUE_DOT_X, P4_BLUE_DOT_Y, BLUE4, 5)
line(4, P4_LEFT_X, P4_LEFT_Y, BLUE4, 3)
line(4, P4_FLOOR_X, P4_FLOOR_Y, BLUE4, 3)
poly(4, P4_LB_SPARSE_X, P4_LB_SPARSE_Y, LBLUE4, 'medium')
poly(4, P4_LB_DENSE_X, P4_LB_DENSE_Y, LBLUE4, 'solid')
dots(4, P4_LB_DOT_X, P4_LB_DOT_Y, LBLUE4, 5)
poly(4, P4_MAG_SPARSE_X, P4_MAG_SPARSE_Y, MAGENTA, 'medium')
poly(4, P4_MAG_DENSE_X, P4_MAG_DENSE_Y, MAGENTA, 'dense')
dots(4, P4_MAG_DOT_X, P4_MAG_DOT_Y, MAGENTA, 5)

# ---------------- panel 5
poly(5, P5_OR_MED_X, P5_OR_MED_Y, ORANGE, 'dense')
poly(5, P5_OR_DENSE_X, P5_OR_DENSE_Y, ORANGE, 'solid')
dots(5, P5_OR_DOT_X, P5_OR_DOT_Y, ORANGE, 5)
dots(5, P5_DOT_X, P5_DOT_Y, LBLUE5, 6)
line(5, P5_LEFT_X, P5_LEFT_Y, LBLUE5, 5, 'dot')
dots(5, P5_LEFT_DOT_X, P5_LEFT_DOT_Y, LBLUE5, 6)
line(5, P5_FLOOR_X, P5_FLOOR_Y, LBLUE5, 4, 'dot')
line(5, P5_FLOOR2_X, P5_FLOOR_Y, LBLUE5, 4, 'dot')

# ---------------- panel 6
poly(6, P6_OR_MED_X, P6_OR_MED_Y, ORANGE, 'dense')
poly(6, P6_OR_DENSE_X, P6_OR_DENSE_Y, ORANGE, 'solid')
dots(6, P6_OR_DOT_X, P6_OR_DOT_Y, ORANGE, 5)
poly(6, P6_RED_TOP_X, P6_RED_TOP_Y, RED, 'dense')
poly(6, P6_RED_BLOCK_X, P6_RED_BLOCK_Y, RED, 'solid')
dots(6, P6_RED_DOT_X, P6_RED_DOT_Y, RED, 5)

# ---------------- panel 7
poly(7, P7_OR_MED_X, P7_OR_MED_Y, ORANGE, 'dense')
poly(7, P7_OR_DENSE_X, P7_OR_DENSE_Y, ORANGE, 'solid')
poly(7, P7_OR_TAIL_X, P7_OR_TAIL_Y, ORANGE, 'medium')
dots(7, P7_OR_DOT_X, P7_OR_DOT_Y, ORANGE, 5)
poly(7, P7_RED_MED_X, P7_RED_MED_Y, RED, 'medium')
poly(7, P7_RED_DENSE_X, P7_RED_DENSE_Y, RED, 'dense')
dots(7, P7_RED_DOT_X, P7_RED_DOT_Y, RED, 5)
line(7, P7_RED_FLOOR_X, P7_FLOOR_Y, RED, 3)
line(7, P7_OR_FLOOR_X, P7_FLOOR_Y, ORANGE, 3)

# ---------------- gates (on the wide invisible axes so they can leave the frame)
line(1, P1_GATE_X, P1_GATE_Y, GATE1, 4.5, wide=True)
line(3, P3_GATE_X, P3_GATE_Y, GATE3, 4.5, wide=True)
line(4, P4_GATE_X, P4_GATE_Y, GATE4, 5, wide=True)
line(5, P5_GATE_L_X, P5_GATE_L_Y, ORANGE, 4, wide=True)
line(5, P5_GATE_T_X, P5_GATE_T_Y, ORANGE, 4, wide=True)
line(6, P6_GATE_X, P6_GATE_Y, RED, 3.5, wide=True)
line(7, P7_GATE_X, P7_GATE_Y, RED, 3.5, wide=True)

# ---------------- axis titles (annotations in pixel positions)
TITLES = [
    # text, x, y, colour, angle, anchor
    ('FSC-A LINEAL', 130, 775, 'black', 0, 'left'),
    ('SSC-A Exp-SSC Low', 50, 393, 'black', -90, 'center'),
    ('FSC-A LINEAL', 130, 1836, 'black', 0, 'left'),
    ('FSC-H LINEAL', 50, 1542, 'black', -90, 'center'),
    ('CD45', 129, 2898, '#C00000', 0, 'left'),
    ('SSC-A', 50, 2728, 'black', -90, 'center'),
    ('CD45', 1100, 1285, '#C00000', 0, 'left'),
    ('CD19', 1021, 1126, '#00E000', -90, 'center'),
    ('CD34', 1100, 2370, '#FFA000', 0, 'left'),
    ('CD10', 1021, 2212, '#74C800', -90, 'center'),
    ('CD81', 2123, 1856, '#00E02A', 0, 'left'),
    ('CD58', 2043, 1699, '#FF5A1E', -90, 'center'),
    ('CD81', 2139, 2993, '#00E02A', 0, 'left'),
    ('CD38', 2060, 2836, '#FFC000', -90, 'center'),
]
annotations = []
for txt, x, y, col, ang, anc in TITLES:
    annotations.append(dict(text=f'<b>{txt}</b>', x=x / W, y=1 - y / H, xref='paper', yref='paper',
                            showarrow=False, textangle=ang, xanchor=anc, yanchor='middle',
                            font=dict(family=FONT, size=56, color=col)))


# ---------------- arrows (paper coordinates from pixel positions)
def P(x, y):
    return f'{x / W:.6f},{1 - y / H:.6f}'


ARROW_PATHS = [
    # polyline points, head direction ('down' / 'right'), dashed
    ([(411, 473), (411, 1050)], 'down', False),
    ([(411, 1534), (411, 2108)], 'down', False),
    ([(686, 2772), (686, 926), (912, 926)], 'right', True),
    ([(1384, 779), (1384, 1580)], 'down', False),
    ([(1706, 1709), (1706, 1499), (1934, 1499)], 'right', False),
    ([(1706, 1840), (1706, 2637), (1953, 2637)], 'right', False),
]
HEAD = 40
shapes = []
for pts, d, dashed in ARROW_PATHS:
    path = 'M ' + ' L '.join(P(x, y) for x, y in pts)
    shapes.append(dict(type='path', path=path, xref='paper', yref='paper', layer='above',
                       line=dict(color=ARROW, width=11, dash='36px,14px' if dashed else 'solid')))
    ex, ey = pts[-1]
    if d == 'down':
        head = f'M {P(ex - HEAD / 2, ey - 6)} L {P(ex + HEAD / 2, ey - 6)} L {P(ex, ey + HEAD - 6)} Z'
    else:
        head = f'M {P(ex - 6, ey - HEAD / 2)} L {P(ex - 6, ey + HEAD / 2)} L {P(ex + HEAD - 6, ey)} Z'
    shapes.append(dict(type='path', path=head, xref='paper', yref='paper', layer='above',
                       fillcolor=ARROW, line=dict(width=0)))

fig.update_layout(width=W, height=H, margin=dict(l=0, r=0, t=0, b=0), autosize=False,
                  paper_bgcolor='white', plot_bgcolor='rgba(0,0,0,0)', showlegend=False,
                  annotations=annotations, shapes=shapes, **layout)

fig.write_html('out.html')
